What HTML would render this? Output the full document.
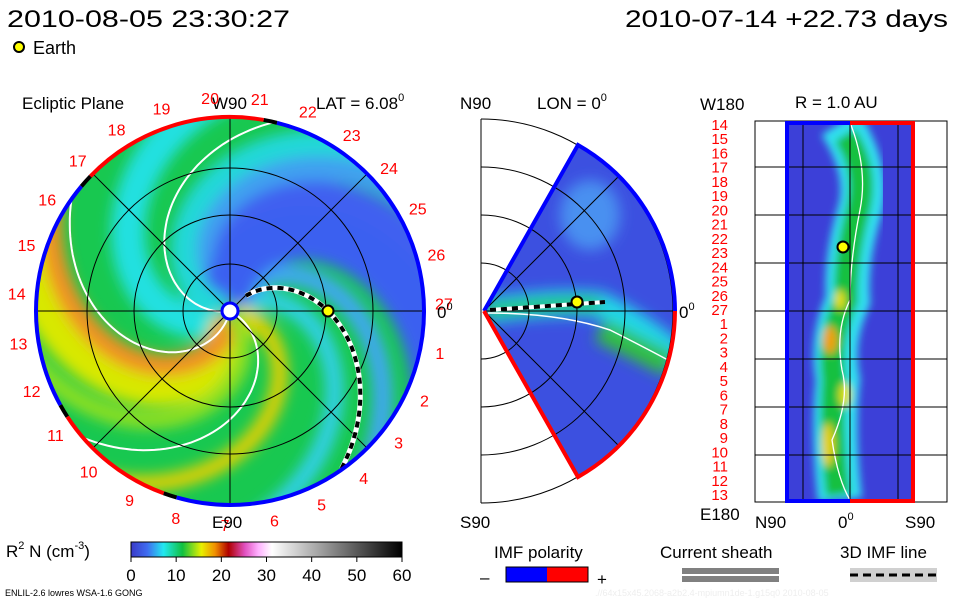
<!DOCTYPE html>
<html><head><meta charset="utf-8"><style>
html,body{margin:0;padding:0;background:#fff;width:960px;height:600px;overflow:hidden}
svg{display:block}
text{font-family:"Liberation Sans",sans-serif;}
</style></head><body>
<svg id="s" width="960" height="600" viewBox="0 0 960 600" xmlns="http://www.w3.org/2000/svg">
<defs>
<filter id="bl" x="-20%" y="-20%" width="140%" height="140%"><feGaussianBlur stdDeviation="7"/></filter>
<filter id="bl2" x="-50%" y="-50%" width="200%" height="200%"><feGaussianBlur stdDeviation="4"/></filter>
<clipPath id="cc"><circle cx="230" cy="311" r="194"/></clipPath>
<clipPath id="wc"><path d="M484 311 L578 145 A192 192 0 0 1 578 477 Z"/></clipPath>
<clipPath id="rc"><rect x="787" y="123" width="126" height="378"/></clipPath>
<linearGradient id="cb" x1="0" x2="1" y1="0" y2="0">
<stop offset="0" stop-color="#3a3ac8"/><stop offset="0.06" stop-color="#3f6cf0"/><stop offset="0.12" stop-color="#22e8f0"/><stop offset="0.19" stop-color="#10c040"/><stop offset="0.26" stop-color="#e8f000"/><stop offset="0.31" stop-color="#f09000"/><stop offset="0.36" stop-color="#b00000"/><stop offset="0.42" stop-color="#e050c0"/><stop offset="0.47" stop-color="#ffb0ff"/><stop offset="0.52" stop-color="#ffffff"/><stop offset="1" stop-color="#000000"/>
</linearGradient>
</defs>

<text x="7" y="27" font-size="24" textLength="283" lengthAdjust="spacingAndGlyphs">2010-08-05 23:30:27</text>
<text x="625" y="27" font-size="24" textLength="323" lengthAdjust="spacingAndGlyphs">2010-07-14 +22.73 days</text>
<circle cx="19" cy="47" r="5" fill="#ffff00" stroke="#000" stroke-width="2"/>
<text x="33" y="54" font-size="18">Earth</text>

<!-- Left panel -->
<text x="22" y="109" font-size="17">Ecliptic Plane</text>
<text x="212" y="109" font-size="17">W90</text>
<text x="316" y="109" font-size="17">LAT = 6.08<tspan font-size="11" dy="-8">0</tspan></text>
<g clip-path="url(#cc)">
<rect x="30" y="110" width="400" height="400" fill="#18c850"/>
<g id="bands" filter="url(#bl)"></g>
</g>
<g id="leftgrid"></g>
<text x="212" y="528" font-size="17">E90</text>
<text x="437" y="318" font-size="17">0<tspan font-size="11" dy="-8">0</tspan></text>

<!-- Middle panel -->
<text x="460" y="109" font-size="17">N90</text>
<text x="537" y="109" font-size="17">LON = 0<tspan font-size="11" dy="-8">0</tspan></text>
<text x="460" y="528" font-size="17">S90</text>
<text x="679" y="318" font-size="17">0<tspan font-size="11" dy="-8">0</tspan></text>
<g clip-path="url(#wc)">
<rect x="470" y="130" width="220" height="360" fill="#3c50e0"/>
<g filter="url(#bl)">
<ellipse cx="590" cy="215" rx="30" ry="35" fill="#4a90f0"/>
<path d="M484 311 Q560 300 600 305 Q650 330 680 360" stroke="#20d8e8" stroke-width="26" fill="none"/>
<path d="M484 311 Q560 302 600 305" stroke="#20c040" stroke-width="12" fill="none"/>
<path d="M600 330 Q640 350 670 365" stroke="#30c040" stroke-width="24" fill="none"/>
</g>
<path d="M488 313 Q560 313 610 330 Q640 345 668 360" stroke="#fff" stroke-width="1.5" fill="none"/>
</g>
<g id="midgrid"></g>

<!-- Right panel -->
<text x="700" y="110" font-size="17">W180</text>
<text x="795" y="108" font-size="17">R = 1.0 AU</text>
<text x="700" y="520" font-size="17">E180</text>
<text x="755" y="528" font-size="17">N90</text>
<text x="838" y="528" font-size="17">0<tspan font-size="11" dy="-8">0</tspan></text>
<text x="905" y="528" font-size="17">S90</text>
<g clip-path="url(#rc)">
<rect x="787" y="123" width="126" height="378" fill="#3c40d8"/>
<g filter="url(#bl2)">
<path d="M840 123 Q870 170 860 210 Q845 260 848 300 Q830 340 838 380 Q832 430 840 500" stroke="#30e0f0" stroke-width="44" fill="none"/>
<path d="M845 135 Q868 170 858 210 Q845 260 846 300 Q828 340 834 380 Q830 430 838 495" stroke="#18c040" stroke-width="24" fill="none"/>
<ellipse cx="830" cy="340" rx="7" ry="14" fill="#f0a000"/>
<ellipse cx="840" cy="300" rx="5" ry="10" fill="#e8e000"/>
<ellipse cx="828" cy="445" rx="6" ry="22" fill="#e8d000"/>
<ellipse cx="845" cy="395" rx="6" ry="12" fill="#e0e000"/>
</g>
<path d="M851 125 Q868 170 860 210 Q850 260 850 300 Q835 330 842 370 Q850 400 832 440 Q838 480 850 500" stroke="#fff" stroke-width="1.3" fill="none"/>
</g>
<g id="rightgrid"></g>

<!-- Colorbar -->
<text x="6" y="557" font-size="17">R<tspan font-size="11" dy="-8">2</tspan><tspan dy="8"> N (cm</tspan><tspan font-size="11" dy="-8">-3</tspan><tspan dy="8">)</tspan></text>
<rect x="131" y="542" width="271" height="15" fill="url(#cb)" stroke="#000" stroke-width="1"/>
<g id="cbticks"></g>
<text x="5" y="596" font-size="9">ENLIL-2.6 lowres WSA-1.6 GONG</text>
<text x="595" y="596" font-size="9" fill="#eeeeee">.//64x15x45.2068-a2b2.4-mpiumn1de-1.g15q0   2010-08-05</text>

<text x="494" y="558" font-size="17">IMF polarity</text>
<text x="480" y="583" font-size="17">–</text>
<rect x="506" y="567" width="41" height="15" fill="#0000ff"/>
<rect x="547" y="567" width="41" height="15" fill="#ff0000"/>
<rect x="506" y="567" width="82" height="15" fill="none" stroke="#000"/>
<text x="597" y="585" font-size="17">+</text>
<text x="660" y="558" font-size="17">Current sheath</text>
<rect x="682" y="568" width="97" height="6" fill="#808080"/>
<rect x="682" y="576" width="97" height="6" fill="#808080"/>
<text x="840" y="558" font-size="17">3D IMF line</text>
<rect x="850" y="568" width="87" height="14" fill="#d0d0d0"/>
<line x1="850" y1="575" x2="937" y2="575" stroke="#000" stroke-width="3" stroke-dasharray="8,5"/>
</svg>
<script>
const dayLabels=[1,2,3,4,5,6,7,8,9,10,11,12,13,14,15,16,17,18,19,20,21,22,23,24,25,26,27];
const rightLabels=[14,15,16,17,18,19,20,21,22,23,24,25,26,27,1,2,3,4,5,6,7,8,9,10,11,12,13];
const cbTicks=[0,10,20,30,40,50,60];
const NS='http://www.w3.org/2000/svg';
function mk(tag,attrs,parent){const e=document.createElementNS(NS,tag);for(const k in attrs)e.setAttribute(k,attrs[k]);parent.appendChild(e);return e;}
const CX=230,CY=311,R=194;
function spiral(phi0,r0,r1){let d='';for(let r=r0;r<=r1;r+=3){const a=(phi0+0.575*(r-98))*Math.PI/180;d+=(d?'L':'M')+(CX+r*Math.cos(a)).toFixed(1)+' '+(CY+r*Math.sin(a)).toFixed(1);}return d;}
const bands=document.getElementById('bands');
[[-62,80,'#4060f0'],[-100,30,'#40a0f0'],[-15,20,'#40a8f0'],[18,18,'#30d0e8'],[-50,50,'#3a60f0'],[200,34,'#20e0e0'],[245,26,'#20d8d8'],[132,44,'#d8e800'],[148,22,'#f09020'],[62,16,'#e8d000'],[105,18,'#90e020']].forEach(b=>{
const p=mk('path',{d:spiral(b[0],6,240),stroke:b[2],'stroke-width':b[1],fill:'none'},bands);


});
const lg=document.getElementById('leftgrid');
[84,160,228].forEach(p=>{const e=mk('path',{d:spiral(p,8,200),stroke:'#fff','stroke-width':2,fill:'none','clip-path':'url(#cc)'},lg);

});
[47,96,143].forEach(r=>{const c=mk('circle',{cx:CX,cy:CY,r:r,fill:'none',stroke:'#000','stroke-width':1},lg);

});
for(let k=0;k<4;k++){const a=k*Math.PI/4;const l=mk('line',{x1:CX-R*Math.cos(a),y1:CY-R*Math.sin(a),x2:CX+R*Math.cos(a),y2:CY+R*Math.sin(a),stroke:'#000','stroke-width':1},lg);

}
const imf=mk('path',{d:spiral(0,22,195),stroke:'#fff','stroke-width':5,fill:'none','clip-path':'url(#cc)'},lg);


const imf2=mk('path',{d:spiral(0,22,195),stroke:'#000','stroke-width':4,'stroke-dasharray':'6,5',fill:'none','clip-path':'url(#cc)'},lg);


function arc(a0,a1,col){const p0=a0*Math.PI/180,p1=a1*Math.PI/180;const e=mk('path',{d:`M${CX+R*Math.cos(p0)} ${CY+R*Math.sin(p0)} A${R} ${R} 0 ${(a1-a0)>180?1:0} 1 ${CX+R*Math.cos(p1)} ${CY+R*Math.sin(p1)}`,stroke:col,'stroke-width':4,fill:'none'},lg);

}
arc(-76,106,'#0000ff');arc(106,110,'#000');arc(110,147,'#ff0000');arc(147,151,'#000');arc(151,220,'#0000ff');arc(220,224,'#000');arc(224,280,'#ff0000');arc(280,284,'#000');
mk('circle',{cx:CX,cy:CY,r:8,fill:'#fff',stroke:'#0000ff','stroke-width':3},lg);
const earth=mk('circle',{cx:328,cy:311,r:5.5,fill:'#ffff00',stroke:'#000','stroke-width':2},lg);


dayLabels.forEach(n=>{const a=(n*13.333-2)*Math.PI/180;const t=mk('text',{x:CX+214*Math.cos(a),y:CY+214*Math.sin(a)+6,'font-size':16,fill:'#ff0000','text-anchor':'middle'},lg);t.textContent=n;

});
const MX=481,MY=311,mg=document.getElementById('midgrid');
mk('line',{x1:MX,y1:119,x2:MX,y2:503,stroke:'#000'},mg);
[48,96,144,192].forEach(r=>{const e=mk('path',{d:`M${MX} ${MY-r} A${r} ${r} 0 0 1 ${MX} ${MY+r}`,stroke:'#000',fill:'none'},mg);

});
[[-45],[0],[45]].forEach(a=>{const p=a[0]*Math.PI/180;mk('line',{x1:484,y1:MY,x2:484+190*Math.cos(p),y2:MY+190*Math.sin(p),stroke:'#000'},mg);});
mk('path',{d:'M484 311 L578 145 A192 192 0 0 1 675 311',stroke:'#0000ff','stroke-width':4,fill:'none'},mg);
mk('path',{d:'M675 311 A192 192 0 0 1 578 477 L484 311',stroke:'#ff0000','stroke-width':4,fill:'none'},mg);
mk('line',{x1:490,y1:310,x2:605,y2:302,stroke:'#fff','stroke-width':4},mg);
mk('line',{x1:490,y1:310,x2:605,y2:302,stroke:'#000','stroke-width':4,'stroke-dasharray':'6,5'},mg);
const e2=mk('circle',{cx:577,cy:302,r:5.5,fill:'#ffff00',stroke:'#000','stroke-width':2},mg);


const rg=document.getElementById('rightgrid');
mk('rect',{x:755,y:121,width:192,height:381,fill:'none',stroke:'#000'},rg);
[803,850,898].forEach(x=>mk('line',{x1:x,y1:121,x2:x,y2:502,stroke:'#000'},rg));
[167,215,263,311,359,407,455].forEach(y=>mk('line',{x1:755,y1:y,x2:947,y2:y,stroke:'#000'},rg));
mk('path',{d:'M850 123 L787 123 L787 501 L850 501',stroke:'#0000ff','stroke-width':4,fill:'none'},rg);
mk('path',{d:'M850 123 L913 123 L913 501 L850 501',stroke:'#ff0000','stroke-width':4,fill:'none'},rg);
const e3=mk('circle',{cx:843,cy:247,r:5.5,fill:'#ffff00',stroke:'#000','stroke-width':2},rg);


rightLabels.forEach((n,i)=>{const t=mk('text',{x:728,y:130+i*14.23,'font-size':15,fill:'#ff0000','text-anchor':'end'},rg);t.textContent=n;

});
const cg=document.getElementById('cbticks');
cbTicks.forEach(v=>{const x=131+v/60*271;mk('line',{x1:x,y1:557,x2:x,y2:562,stroke:'#000'},cg);const t=mk('text',{x:x,y:581,'font-size':17,'text-anchor':'middle'},cg);t.textContent=v;

});
</script>
</body></html>
